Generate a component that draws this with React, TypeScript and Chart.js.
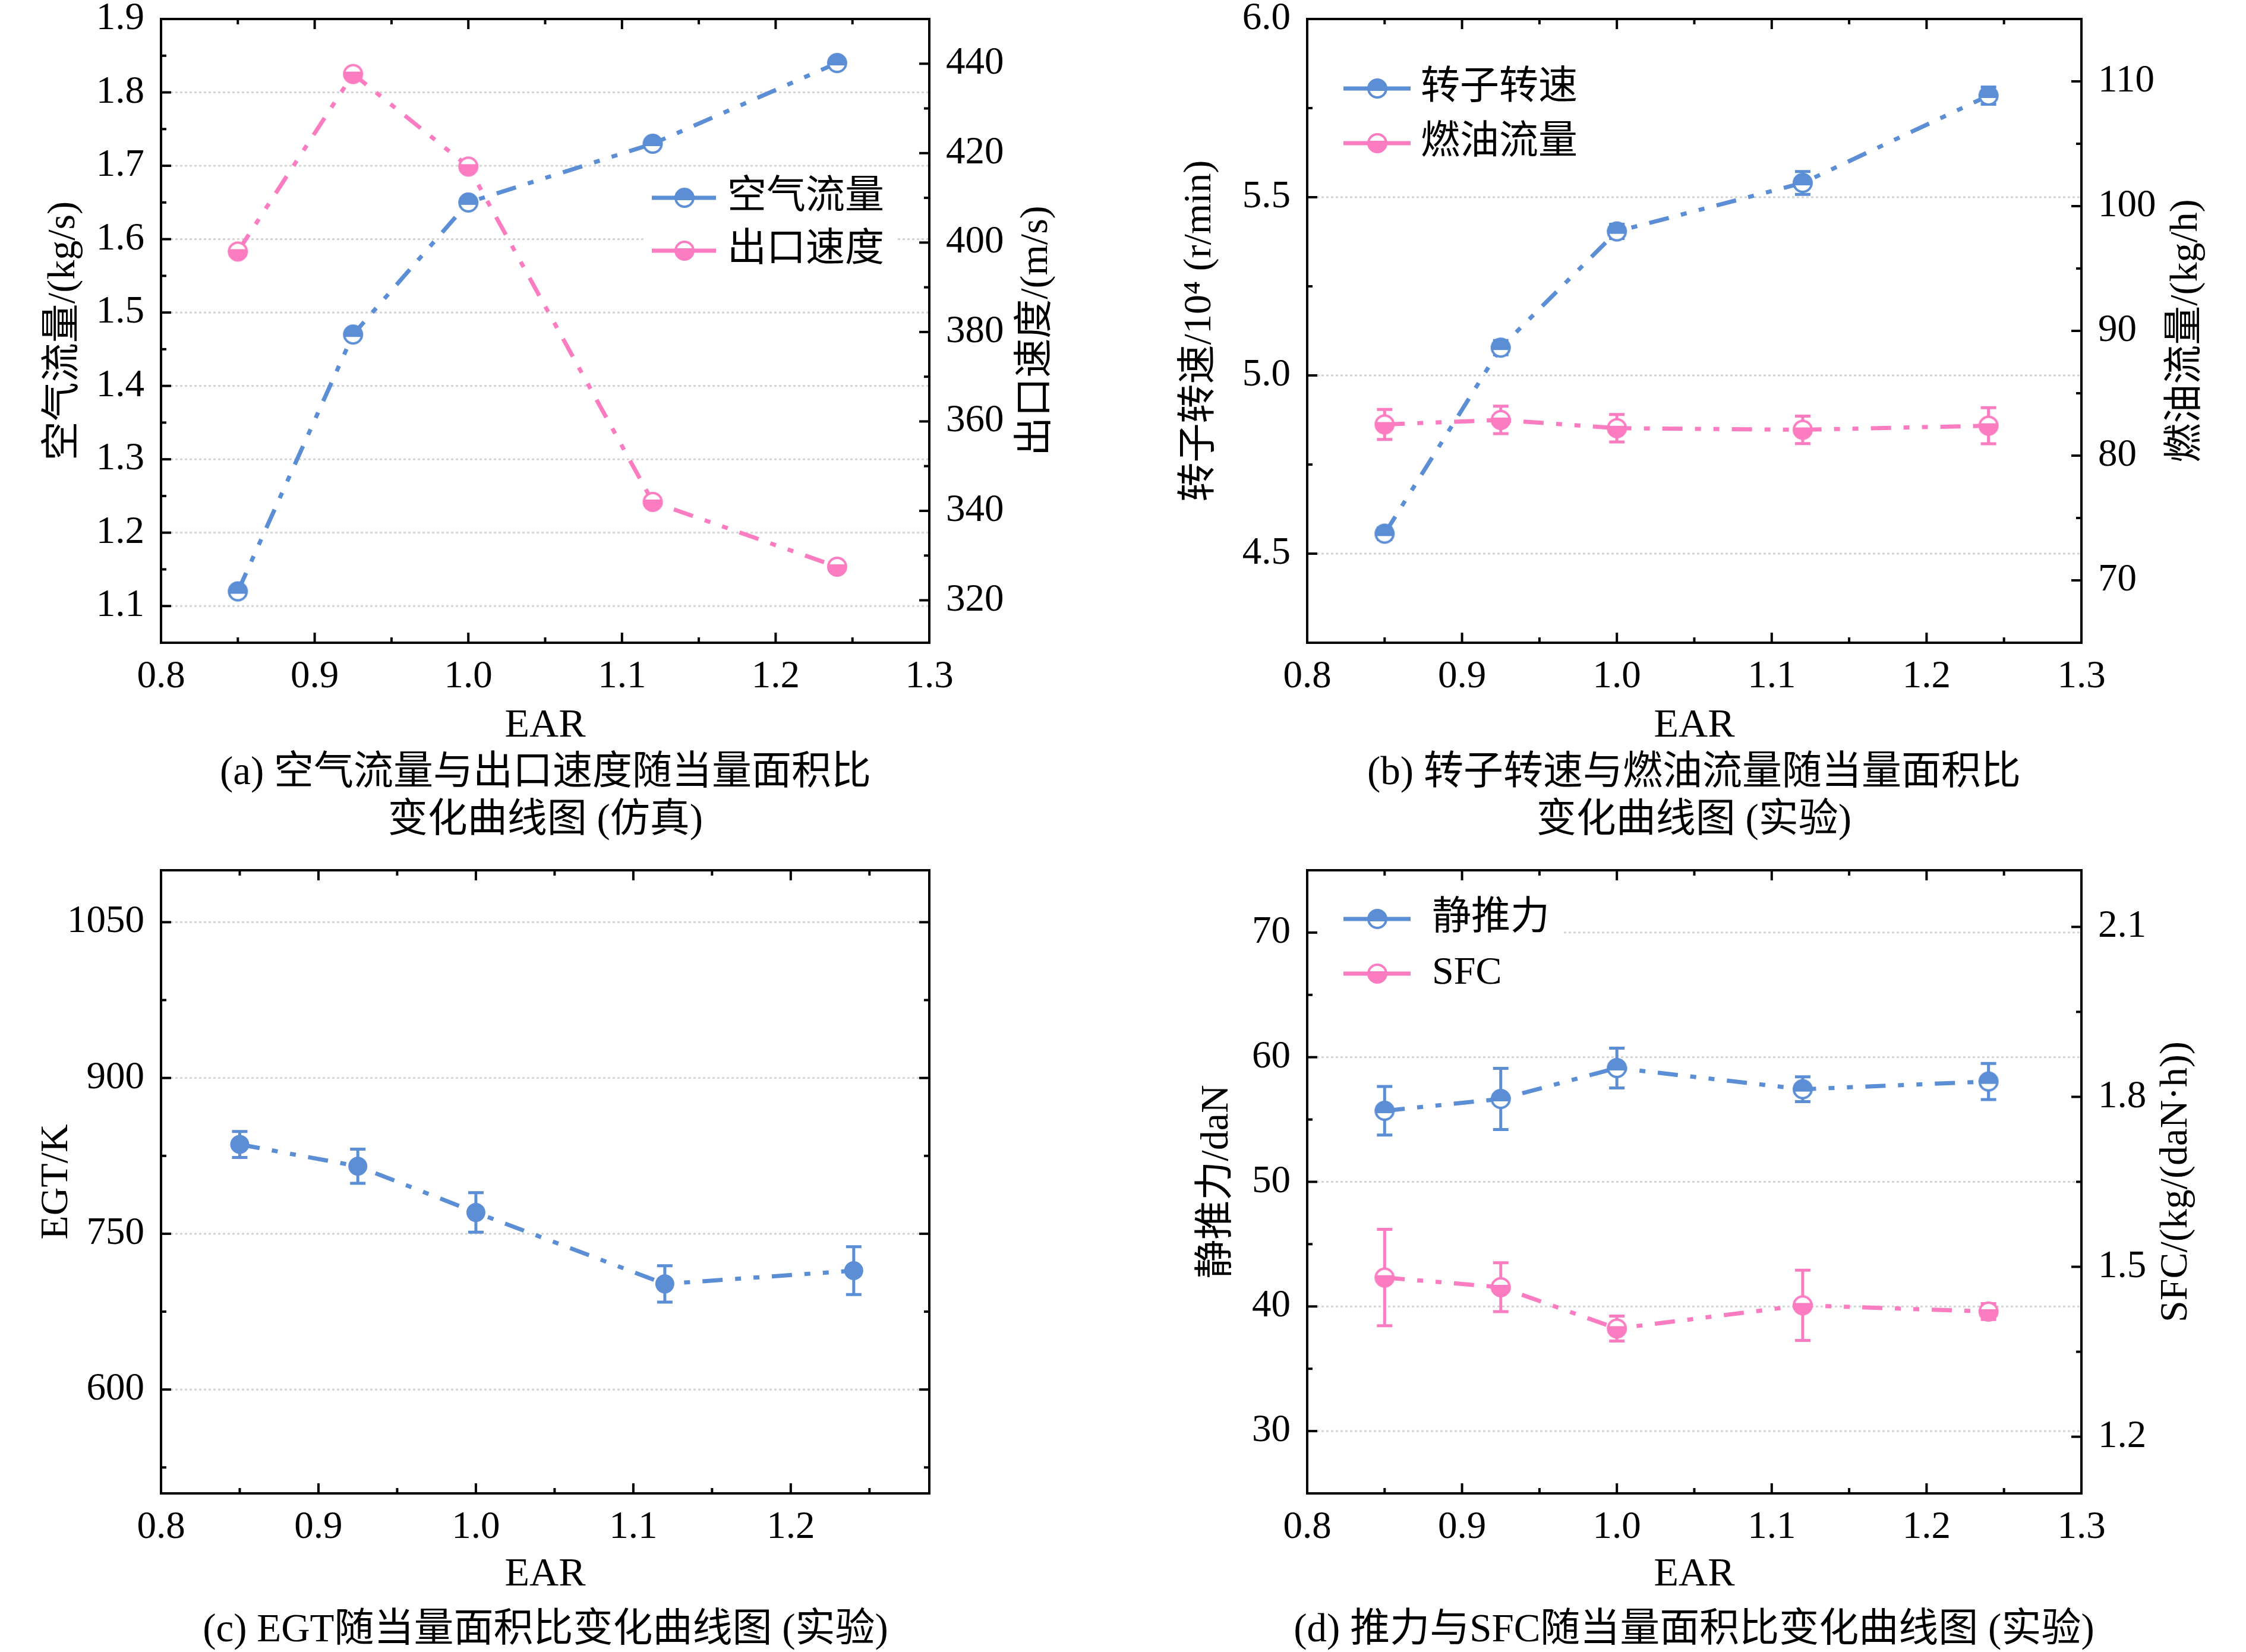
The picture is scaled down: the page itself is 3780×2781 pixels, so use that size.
import React, { useEffect, useRef } from "react";
import { Chart, registerables } from "chart.js";
Chart.register(...registerables);

// ---------------- data ----------------
const EAR = [0.85, 0.925, 1.0, 1.12, 1.24];

// (a) simulation
const AIR_FLOW = [1.12, 1.47, 1.65, 1.73, 1.84];
const EXIT_SPEED = [398, 437.7, 417, 342, 327.5];

// (b) experiment
const ROTOR_SPEED = [4.556, 5.078, 5.404, 5.54, 5.785];
const ROTOR_SPEED_ERR = [0.016, 0.02, 0.02, 0.032, 0.024];
const FUEL_FLOW = [82.5, 82.86, 82.2, 82.07, 82.4];
const FUEL_FLOW_ERR = [1.2, 1.1, 1.1, 1.1, 1.45];

// (c) experiment
const EGT = [836, 815, 770.5, 701.7, 714.5];
const EGT_ERR = [12.5, 16.4, 19, 17.5, 23];

// (d) experiment
const THRUST = [55.7, 56.65, 59.13, 57.43, 58.05];
const THRUST_ERR = [1.95, 2.45, 1.6, 1.0, 1.45];
const SFC = [1.481, 1.464, 1.391, 1.432, 1.421];
const SFC_ERR = [0.085, 0.043, 0.022, 0.062, 0.014];

// ticks
const X_TICKS = [0.8, 0.9, 1.0, 1.1, 1.2, 1.3];
const X_TICKS_C = [0.8, 0.9, 1.0, 1.1, 1.2];
const X_MAJOR = [0.9, 1.0, 1.1, 1.2];
const X_MINOR = [0.85, 0.95, 1.05, 1.15, 1.25];
const A_LEFT_TICKS = [1.1, 1.2, 1.3, 1.4, 1.5, 1.6, 1.7, 1.8, 1.9];
const A_LEFT_MINOR = [1.15, 1.25, 1.35, 1.45, 1.55, 1.65, 1.75, 1.85];
const A_RIGHT_TICKS = [320, 340, 360, 380, 400, 420, 440];
const A_RIGHT_MINOR = [330, 350, 370, 390, 410, 430];
const B_LEFT_TICKS = [4.5, 5.0, 5.5, 6.0];
const B_LEFT_MINOR = [4.75, 5.25, 5.75];
const B_RIGHT_TICKS = [70, 80, 90, 100, 110];
const B_RIGHT_MINOR = [75, 85, 95, 105];
const C_LEFT_TICKS = [600, 750, 900, 1050];
const C_LEFT_MINOR = [525, 675, 825, 975];
const D_LEFT_TICKS = [30, 40, 50, 60, 70];
const D_LEFT_MINOR = [35, 45, 55, 65];
const D_RIGHT_TICKS = [1.2, 1.5, 1.8, 2.1];
const D_RIGHT_MINOR = [1.35, 1.65, 1.95];

// ---------------- style ----------------
const BLUE = "#5B8ED5";
const PINK = "#FB7CC0";
const FONT = "'Liberation Serif', 'Times New Roman', 'Noto Sans CJK SC', serif";
const DASH = [34, 21, 10, 21, 10, 21];
const TICK_FONT = { family: FONT, size: 65, lineHeight: 1.2 };

type Marker = HTMLCanvasElement | string;

function makeHalfMarker(color: string, filledTop: boolean): HTMLCanvasElement {
  const s = 42;
  const c = document.createElement("canvas");
  c.width = s;
  c.height = s;
  const g = c.getContext("2d")!;
  const cx = s / 2;
  const r = 15;
  g.beginPath();
  g.arc(cx, cx, r, 0, Math.PI * 2);
  g.fillStyle = "#ffffff";
  g.fill();
  g.save();
  g.beginPath();
  g.arc(cx, cx, r, 0, Math.PI * 2);
  g.clip();
  g.fillStyle = color;
  if (filledTop) g.fillRect(0, 0, s, cx + 4);
  else g.fillRect(0, cx - 4, s, s);
  g.restore();
  g.beginPath();
  g.arc(cx, cx, r, 0, Math.PI * 2);
  g.lineWidth = 4;
  g.strokeStyle = color;
  g.stroke();
  return c;
}

interface LegendItem {
  label: string;
  color: string;
  marker: HTMLCanvasElement;
  y: number;
}
interface Spec {
  grid: number[];
  xMajor: number[];
  xMinor: number[];
  lMajor: number[];
  lMinor: number[];
  rId: string;
  rMajor: number[];
  rMinor: number[];
  lTitle: string;
  lOff: number;
  rTitle?: string;
  rOff?: number;
  xTitleOff: number;
  legend?: {
    box: [number, number, number, number];
    lineX0: number;
    lineX1: number;
    markerX: number;
    textX: number;
    items: LegendItem[];
  };
}

function decoPlugin(spec: Spec) {
  return {
    id: "deco",
    beforeDatasetsDraw(chart: any) {
      const ctx = chart.ctx as CanvasRenderingContext2D;
      const a = chart.chartArea;
      const yl = chart.scales.y;
      // grid
      ctx.save();
      ctx.strokeStyle = "#d4d4d4";
      ctx.lineWidth = 3;
      ctx.setLineDash([4, 4]);
      spec.grid.forEach((v) => {
        const py = yl.getPixelForValue(v);
        ctx.beginPath();
        ctx.moveTo(a.left, py);
        ctx.lineTo(a.right, py);
        ctx.stroke();
      });
      ctx.restore();
      // error bars
      chart.data.datasets.forEach((ds: any) => {
        if (!ds.errors) return;
        const ys = chart.scales[ds.yAxisID];
        const xs = chart.scales.x;
        ctx.save();
        ctx.strokeStyle = ds.borderColor;
        ctx.lineWidth = 5;
        ctx.setLineDash([]);
        ds.data.forEach((p: any, j: number) => {
          const px = xs.getPixelForValue(p.x);
          const y1 = ys.getPixelForValue(p.y + ds.errors[j]);
          const y2 = ys.getPixelForValue(p.y - ds.errors[j]);
          ctx.beginPath();
          ctx.moveTo(px, y1);
          ctx.lineTo(px, y2);
          ctx.moveTo(px - 13, y1);
          ctx.lineTo(px + 13, y1);
          ctx.moveTo(px - 13, y2);
          ctx.lineTo(px + 13, y2);
          ctx.stroke();
        });
        ctx.restore();
      });
    },
    afterDatasetsDraw(chart: any) {
      const lg = spec.legend;
      if (!lg) return;
      const ctx = chart.ctx as CanvasRenderingContext2D;
      ctx.save();
      ctx.fillStyle = "#ffffff";
      ctx.fillRect(lg.box[0], lg.box[1], lg.box[2], lg.box[3]);
      lg.items.forEach((it) => {
        ctx.strokeStyle = it.color;
        ctx.lineWidth = 7;
        ctx.setLineDash([]);
        ctx.beginPath();
        ctx.moveTo(lg.lineX0, it.y);
        ctx.lineTo(lg.lineX1, it.y);
        ctx.stroke();
        ctx.drawImage(it.marker, lg.markerX - it.marker.width / 2, it.y - it.marker.height / 2);
        ctx.fillStyle = "#000";
        ctx.font = `66px ${FONT}`;
        ctx.textAlign = "left";
        ctx.textBaseline = "middle";
        ctx.fillText(it.label, lg.textX, it.y);
      });
      ctx.restore();
    },
    afterDraw(chart: any) {
      const ctx = chart.ctx as CanvasRenderingContext2D;
      const a = chart.chartArea;
      const xs = chart.scales.x;
      const yl = chart.scales.y;
      const yr = chart.scales[spec.rId];
      ctx.save();
      ctx.strokeStyle = "#000";
      ctx.setLineDash([]);
      ctx.lineWidth = 4;
      ctx.strokeRect(a.left, a.top, a.right - a.left, a.bottom - a.top);
      const tick = (x1: number, y1: number, x2: number, y2: number) => {
        ctx.beginPath();
        ctx.moveTo(x1, y1);
        ctx.lineTo(x2, y2);
        ctx.stroke();
      };
      const MAJ = 17;
      const MIN = 9;
      spec.xMajor.forEach((v) => {
        const px = xs.getPixelForValue(v);
        tick(px, a.bottom, px, a.bottom - MAJ);
        tick(px, a.top, px, a.top + MAJ);
      });
      spec.xMinor.forEach((v) => {
        const px = xs.getPixelForValue(v);
        tick(px, a.bottom, px, a.bottom - MIN);
        tick(px, a.top, px, a.top + MIN);
      });
      spec.lMajor.forEach((v) => {
        const py = yl.getPixelForValue(v);
        if (py > a.top + 3 && py < a.bottom - 3) tick(a.left, py, a.left + MAJ, py);
      });
      spec.lMinor.forEach((v) => {
        const py = yl.getPixelForValue(v);
        tick(a.left, py, a.left + MIN, py);
      });
      spec.rMajor.forEach((v) => {
        const py = yr.getPixelForValue(v);
        if (py > a.top + 3 && py < a.bottom - 3) tick(a.right, py, a.right - MAJ, py);
      });
      spec.rMinor.forEach((v) => {
        const py = yr.getPixelForValue(v);
        tick(a.right, py, a.right - MIN, py);
      });
      // titles
      ctx.fillStyle = "#000";
      ctx.font = `66px ${FONT}`;
      ctx.textAlign = "center";
      ctx.textBaseline = "middle";
      const cy = (a.top + a.bottom) / 2;
      const drawV = (text: string, x: number) => {
        ctx.save();
        ctx.translate(x, cy);
        ctx.rotate(-Math.PI / 2);
        ctx.fillText(text, 0, 0);
        ctx.restore();
      };
      drawV(spec.lTitle, a.left - spec.lOff);
      if (spec.rTitle) drawV(spec.rTitle, a.right + (spec.rOff || 0));
      ctx.font = `68px ${FONT}`;
      ctx.fillText("EAR", (a.left + a.right) / 2, a.bottom + spec.xTitleOff);
      ctx.restore();
    },
  };
}

function yScale(pos: string, min: number, max: number, ticks: number[], width: number, digits: number, pad: number) {
  return {
    type: "linear",
    position: pos,
    min,
    max,
    afterBuildTicks: (s: any) => {
      s.ticks = ticks.map((v) => ({ value: v }));
    },
    afterFit: (s: any) => {
      s.width = width;
      s.paddingTop = 0;
      s.paddingBottom = 0;
    },
    grid: { display: false, drawTicks: false },
    border: { display: false },
    ticks: {
      autoSkip: false,
      padding: pad,
      color: "#000",
      font: TICK_FONT,
      callback: (v: any) => Number(v).toFixed(digits),
    },
  };
}

function xScale(max: number, ticks: number[], height: number) {
  return {
    type: "linear",
    position: "bottom",
    min: 0.8,
    max,
    afterBuildTicks: (s: any) => {
      s.ticks = ticks.map((v) => ({ value: v }));
    },
    afterFit: (s: any) => {
      s.height = height;
      s.paddingLeft = 0;
      s.paddingRight = 0;
    },
    grid: { display: false, drawTicks: false },
    border: { display: false },
    ticks: {
      autoSkip: false,
      maxRotation: 0,
      padding: 19,
      color: "#000",
      font: TICK_FONT,
      callback: (v: any) => Number(v).toFixed(1),
    },
  };
}

function series(label: string, ys: number[], errs: number[] | null, color: string, marker: Marker, yAxisID: string, radius = 15) {
  return {
    label,
    data: EAR.map((x, i) => ({ x, y: ys[i] })),
    errors: errs,
    yAxisID,
    borderColor: color,
    backgroundColor: color,
    borderWidth: 7,
    borderDash: DASH,
    borderCapStyle: "butt",
    pointStyle: marker,
    pointRadius: radius,
    pointHoverRadius: radius,
    pointBackgroundColor: color,
    pointBorderColor: color,
    pointBorderWidth: 0,
    tension: 0,
    fill: false,
    clip: false,
  };
}

function baseOptions(scales: any, padTop: number, padRight: number) {
  return {
    animation: false,
    responsive: false,
    devicePixelRatio: 1,
    events: [],
    layout: { autoPadding: false, padding: { left: 0, top: padTop, right: padRight, bottom: 0 } },
    plugins: { legend: { display: false }, tooltip: { enabled: false }, title: { display: false } },
    scales,
  };
}

const CW = 1890;
const CH_TOP = 1290;
const CH_BOT = 1361;

function buildA(): any {
  const mb = makeHalfMarker(BLUE, true);
  const mp = makeHalfMarker(PINK, false);
  return {
    type: "line",
    data: {
      datasets: [
        series("空气流量", AIR_FLOW, null, BLUE, mb, "y"),
        series("出口速度", EXIT_SPEED, null, PINK, mp, "y1"),
      ],
    },
    options: baseOptions(
      {
        x: xScale(1.3, X_TICKS, CH_TOP - 1082),
        y: yScale("left", 1.05, 1.9, A_LEFT_TICKS, 271, 1, 28),
        y1: yScale("right", 310.5, 450, A_RIGHT_TICKS, CW - 1564, 0, 28),
      },
      32,
      0
    ),
    plugins: [
      decoPlugin({
        grid: [1.1, 1.2, 1.3, 1.4, 1.5, 1.6, 1.7, 1.8],
        xMajor: X_MAJOR,
        xMinor: X_MINOR,
        lMajor: A_LEFT_TICKS,
        lMinor: A_LEFT_MINOR,
        rId: "y1",
        rMajor: A_RIGHT_TICKS,
        rMinor: A_RIGHT_MINOR,
        lTitle: "空气流量/(kg/s)",
        lOff: 163,
        rTitle: "出口速度/(m/s)",
        rOff: 181,
        xTitleOff: 140,
        legend: {
          box: [1085, 292, 425, 178],
          lineX0: 1097,
          lineX1: 1205,
          markerX: 1152,
          textX: 1224,
          items: [
            { label: "空气流量", color: BLUE, marker: mb, y: 333 },
            { label: "出口速度", color: PINK, marker: mp, y: 422 },
          ],
        },
      }),
    ],
  };
}

function buildB(): any {
  const mb = makeHalfMarker(BLUE, true);
  const mp = makeHalfMarker(PINK, false);
  return {
    type: "line",
    data: {
      datasets: [
        series("转子转速", ROTOR_SPEED, ROTOR_SPEED_ERR, BLUE, mb, "y"),
        series("燃油流量", FUEL_FLOW, FUEL_FLOW_ERR, PINK, mp, "y1"),
      ],
    },
    options: baseOptions(
      {
        x: xScale(1.3, X_TICKS, CH_TOP - 1082),
        y: yScale("left", 4.25, 6.0, B_LEFT_TICKS, 310, 1, 28),
        y1: yScale("right", 65, 115, B_RIGHT_TICKS, CW - 1613, 0, 28),
      },
      32,
      0
    ),
    plugins: [
      decoPlugin({
        grid: [4.5, 5.0, 5.5],
        xMajor: X_MAJOR,
        xMinor: X_MINOR,
        lMajor: B_LEFT_TICKS,
        lMinor: B_LEFT_MINOR,
        rId: "y1",
        rMajor: B_RIGHT_TICKS,
        rMinor: B_RIGHT_MINOR,
        lTitle: "转子转速/10⁴ (r/min)",
        lOff: 180,
        rTitle: "燃油流量/(kg/h)",
        rOff: 177,
        xTitleOff: 140,
        legend: {
          box: [340, 100, 430, 190],
          lineX0: 371,
          lineX1: 484,
          markerX: 428,
          textX: 501,
          items: [
            { label: "转子转速", color: BLUE, marker: mb, y: 149 },
            { label: "燃油流量", color: PINK, marker: mp, y: 241 },
          ],
        },
      }),
    ],
  };
}

function buildC(): any {
  return {
    type: "line",
    data: {
      datasets: [series("EGT", EGT, EGT_ERR, BLUE, "circle", "y", 16)],
    },
    options: baseOptions(
      {
        x: xScale(1.288, X_TICKS_C, CH_BOT - 1094),
        y: yScale("left", 500, 1100, C_LEFT_TICKS, 271, 0, 28),
      },
      45,
      CW - 1564
    ),
    plugins: [
      decoPlugin({
        grid: C_LEFT_TICKS,
        xMajor: X_MAJOR,
        xMinor: X_MINOR,
        lMajor: C_LEFT_TICKS,
        lMinor: C_LEFT_MINOR,
        rId: "y",
        rMajor: C_LEFT_TICKS,
        rMinor: C_LEFT_MINOR,
        lTitle: "EGT/K",
        lOff: 175,
        xTitleOff: 137,
      }),
    ],
  };
}

function buildD(): any {
  const mb = makeHalfMarker(BLUE, true);
  const mp = makeHalfMarker(PINK, false);
  return {
    type: "line",
    data: {
      datasets: [
        series("静推力", THRUST, THRUST_ERR, BLUE, mb, "y"),
        series("SFC", SFC, SFC_ERR, PINK, mp, "y1"),
      ],
    },
    options: baseOptions(
      {
        x: xScale(1.3, X_TICKS, CH_BOT - 1094),
        y: yScale("left", 25, 75, D_LEFT_TICKS, 310, 0, 28),
        y1: yScale("right", 1.1, 2.2, D_RIGHT_TICKS, CW - 1613, 1, 28),
      },
      45,
      0
    ),
    plugins: [
      decoPlugin({
        grid: D_LEFT_TICKS,
        xMajor: X_MAJOR,
        xMinor: X_MINOR,
        lMajor: D_LEFT_TICKS,
        lMinor: D_LEFT_MINOR,
        rId: "y1",
        rMajor: D_RIGHT_TICKS,
        rMinor: D_RIGHT_MINOR,
        lTitle: "静推力/daN",
        lOff: 151,
        rTitle: "SFC/(kg/(daN·h))",
        rOff: 160,
        xTitleOff: 137,
        legend: {
          box: [313, 85, 427, 185],
          lineX0: 371,
          lineX1: 484,
          markerX: 428,
          textX: 520,
          items: [
            { label: "静推力", color: BLUE, marker: mb, y: 127 },
            { label: "SFC", color: PINK, marker: mp, y: 219 },
          ],
        },
      }),
    ],
  };
}

function Panel(props: { left: number; top: number; width: number; height: number; build: () => any }) {
  const ref = useRef<HTMLCanvasElement>(null);
  useEffect(() => {
    const chart = new Chart(ref.current as HTMLCanvasElement, props.build());
    return () => chart.destroy();
  }, []);
  return (
    <canvas
      ref={ref}
      width={props.width}
      height={props.height}
      style={{ position: "absolute", left: props.left, top: props.top, width: props.width, height: props.height }}
    />
  );
}

function Caption(props: { cx: number; top: number; lines: string[] }) {
  return (
    <div
      style={{
        position: "absolute",
        left: props.cx - 1000,
        top: props.top,
        width: 2000,
        textAlign: "center",
        fontFamily: FONT,
        fontSize: 67,
        lineHeight: "80px",
        color: "#000",
        whiteSpace: "pre",
      }}
    >
      {props.lines.map((l, i) => (
        <div key={i}>{l}</div>
      ))}
    </div>
  );
}

export default function App() {
  return (
    <div
      style={{
        position: "absolute",
        left: 0,
        top: 0,
        width: 3780,
        height: 2781,
        background: "#ffffff",
        overflow: "hidden",
      }}
    >
      <Panel left={0} top={0} width={CW} height={CH_TOP} build={buildA} />
      <Panel left={1890} top={0} width={CW} height={CH_TOP} build={buildB} />
      <Panel left={0} top={1420} width={CW} height={CH_BOT} build={buildC} />
      <Panel left={1890} top={1420} width={CW} height={CH_BOT} build={buildD} />
      <Caption cx={918} top={1257} lines={["(a) 空气流量与出口速度随当量面积比", "变化曲线图 (仿真)"]} />
      <Caption cx={2851} top={1257} lines={["(b) 转子转速与燃油流量随当量面积比", "变化曲线图 (实验)"]} />
      <Caption cx={918} top={2700} lines={["(c) EGT随当量面积比变化曲线图 (实验)"]} />
      <Caption cx={2851} top={2700} lines={["(d) 推力与SFC随当量面积比变化曲线图 (实验)"]} />
    </div>
  );
}
